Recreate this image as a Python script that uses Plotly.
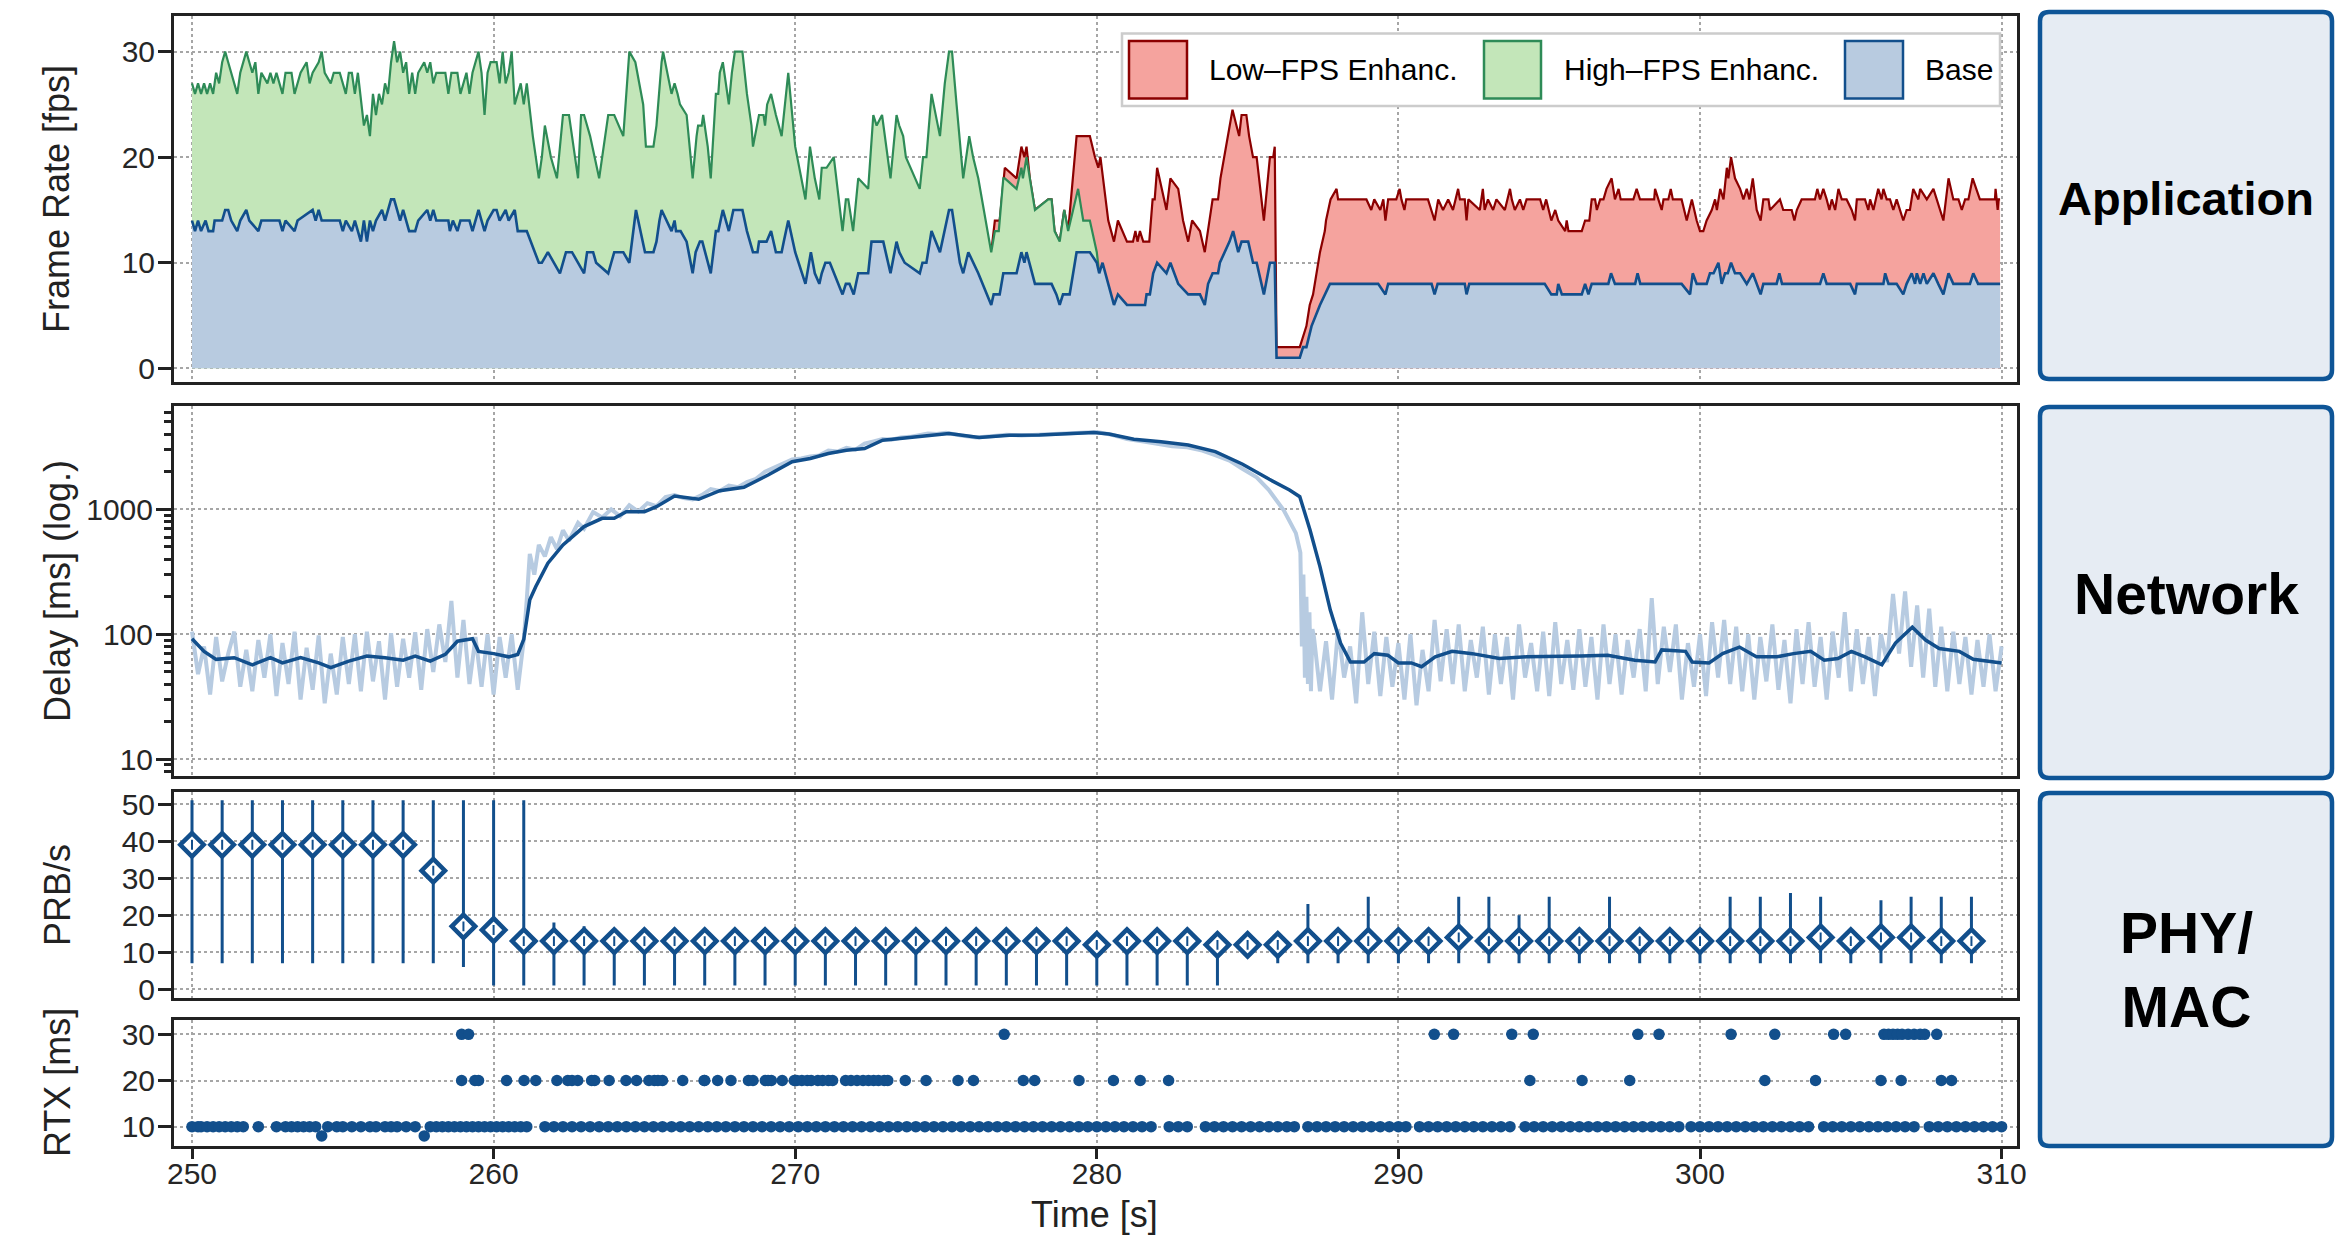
import numpy as np
import plotly.graph_objects as go

# ---------------- DATA ----------------
# Frame rate: (time [s], fps)
FPS_BASE = [(250.0,14),(250.1,13),(250.2,14),(250.3,13),(250.45,14),(250.55,13),(250.7,13),(250.75,14),(251.0,14),(251.1,15),(251.2,15),(251.3,14),(251.5,13),(251.6,14),(251.8,15),(251.9,14),(252.2,13),(252.3,14),(252.9,14),(253.0,13),(253.1,14),(253.4,13),(253.5,14),(254.0,15),(254.1,14),(254.2,15),(254.3,14),(254.9,14),(255.0,13),(255.1,14),(255.3,13),(255.4,14),(255.6,12),(255.7,14),(255.8,12),(255.9,14),(256.0,13),(256.1,14),(256.3,15),(256.4,14),(256.6,16),(256.7,16),(256.8,15),(256.9,14),(257.0,15),(257.1,14),(257.2,13),(257.4,13),(257.5,14),(257.8,15),(257.9,14),(258.0,15),(258.1,14),(258.5,14),(258.55,13),(258.65,14),(258.8,13),(258.9,14),(259.2,14),(259.3,13),(259.4,14),(259.5,15),(259.6,14),(259.7,13),(259.8,14),(260.0,15),(260.1,15),(260.2,14),(260.4,15),(260.5,14),(260.7,15),(260.8,13),(261.1,13),(261.5,10),(261.6,10),(261.8,11),(262.2,9),(262.4,11),(262.6,11),(262.8,10),(263.0,9),(263.1,11),(263.3,11),(263.4,10),(263.8,9),(263.9,10),(264.0,11),(264.3,11),(264.5,10),(264.72,15),(265.02,11),(265.3,11),(265.4,12),(265.5,14),(265.57,15),(265.9,13),(266.0,14),(266.05,13),(266.2,13),(266.4,12),(266.6,9),(266.7,11),(266.84,12),(266.92,12),(267.2,9),(267.37,13),(267.45,13),(267.6,15),(267.8,13),(267.95,15),(268.25,15),(268.4,13),(268.6,11),(268.75,11),(268.8,12),(269.05,12),(269.2,13),(269.36,11),(269.55,11),(269.62,12),(269.77,14),(270.0,11),(270.34,8),(270.52,11),(270.65,9),(270.8,8),(270.88,9),(271.0,10),(271.15,10),(271.57,7),(271.68,8),(271.8,8),(271.94,7),(272.09,9),(272.42,9),(272.53,12),(272.92,12),(273.16,9),(273.36,12),(273.45,11),(273.63,10),(274.13,9),(274.22,10),(274.35,10),(274.52,13),(274.8,11),(274.96,13),(275.1,15),(275.2,15),(275.46,10),(275.57,9),(275.74,11),(276.07,9),(276.5,6),(276.58,7),(276.78,7),(276.9,9),(277.34,9),(277.5,11),(277.6,10),(277.67,11),(277.95,8),(278.5,8),(278.66,7),(278.77,6),(278.88,7),(279.1,7),(279.22,9),(279.33,11),(279.77,11),(280.0,10),(280.08,9),(280.19,10),(280.38,8),(280.57,6),(280.7,7),(281.0,6),(281.6,6),(281.65,7),(281.76,7),(281.87,9),(282.0,10),(282.31,9),(282.44,10),(282.7,8),(283.03,7),(283.42,7),(283.58,6),(283.69,8),(283.84,9),(284.02,9),(284.08,10),(284.4,12),(284.52,13),(284.69,11),(284.8,12),(285.02,12),(285.18,10),(285.3,10),(285.54,7),(285.74,10),(285.9,10),(285.96,1),(286.73,1),(286.84,2),(286.95,2),(287.12,4),(287.4,6),(287.73,8),(289.33,8),(289.57,7),(289.66,8),(291.1,8),(291.2,7),(291.3,8),(292.2,8),(292.26,7),(292.35,8),(294.85,8),(295.07,7),(295.25,7),(295.3,8),(295.42,7),(296.08,7),(296.19,8),(296.3,7),(296.41,8),(296.96,8),(297.05,9),(297.18,8),(297.85,8),(297.93,9),(298.02,8),(299.39,8),(299.67,7),(299.76,9),(299.89,8),(300.22,8),(300.33,9),(300.45,9),(300.61,10),(300.72,8),(300.83,9),(300.92,9),(301.03,10),(301.16,9),(301.33,9),(301.55,8),(301.75,9),(302.01,7),(302.1,8),(302.54,8),(302.63,9),(302.72,8),(303.98,8),(304.09,9),(304.2,8),(304.98,8),(305.14,7),(305.2,8),(306.08,8),(306.14,9),(306.25,8),(306.52,8),(306.74,7),(306.85,8),(307.02,9),(307.13,8),(307.19,9),(307.3,8),(307.41,9),(307.52,8),(307.74,9),(307.9,8),(308.07,7),(308.24,9),(308.4,8),(308.95,8),(309.06,9),(309.22,8),(309.95,8)]

# Base + High-FPS enhancement (stacked top)
FPS_HIGH = [(250.0,27),(250.1,26),(250.2,27),(250.3,26),(250.4,27),(250.5,26),(250.6,27),(250.7,26),(250.8,28),(250.9,27),(251.0,29),(251.1,30),(251.2,29),(251.3,28),(251.5,26),(251.6,28),(251.8,30),(251.9,29),(252.0,28),(252.1,29),(252.2,26),(252.3,28),(252.5,27),(252.6,28),(252.7,27),(252.8,28),(253.0,26),(253.1,28),(253.3,28),(253.4,26),(253.6,28),(253.8,29),(253.9,27),(254.0,28),(254.2,29),(254.3,30),(254.4,28),(254.6,27),(254.7,28),(254.9,28),(255.1,26),(255.2,28),(255.3,28),(255.4,26),(255.5,28),(255.7,23),(255.8,24),(255.9,22),(256.0,26),(256.1,24),(256.2,26),(256.3,25),(256.4,27),(256.5,26),(256.6,29),(256.7,31),(256.8,29),(256.9,30),(257.0,28),(257.1,29),(257.2,26),(257.3,28),(257.4,26),(257.5,28),(257.7,29),(257.8,28),(257.9,29),(258.0,27),(258.1,28),(258.4,28),(258.5,26),(258.6,28),(258.8,28),(258.9,26),(259.0,27),(259.1,28),(259.2,26),(259.3,28),(259.5,30),(259.6,28),(259.7,24),(259.8,28),(259.9,29),(260.1,29),(260.2,27),(260.3,30),(260.4,27),(260.5,28),(260.6,30),(260.7,25),(260.8,26),(260.9,27),(261.0,25),(261.1,27),(261.3,22),(261.5,18),(261.6,20),(261.7,23),(261.9,20),(262.1,18),(262.3,24),(262.5,24),(262.6,22),(262.8,18),(262.9,24),(263.0,24),(263.2,22),(263.5,18),(263.6,20),(263.8,24),(264.0,24),(264.3,22),(264.5,30),(264.7,29),(264.96,25),(265.05,21),(265.3,21),(265.4,23),(265.57,29),(265.62,30),(265.9,26),(266.0,27),(266.1,26),(266.18,25),(266.4,24),(266.6,18),(266.73,22),(266.78,23),(266.9,23),(266.95,24),(267.1,21),(267.2,18),(267.37,26),(267.45,26),(267.5,28),(267.6,29),(267.8,25),(267.9,28),(268.0,30),(268.25,30),(268.4,26),(268.5,24),(268.55,23),(268.6,21),(268.8,24),(268.95,24),(269.0,23),(269.07,25),(269.2,26),(269.36,24),(269.55,22),(269.66,25),(269.77,28),(270.0,21),(270.34,16),(270.49,21),(270.65,18),(270.8,16),(270.88,19),(271.04,19),(271.28,20),(271.57,13),(271.68,16),(271.76,16),(271.92,13),(272.09,18),(272.42,17),(272.59,24),(272.7,23),(272.88,24),(273.16,18),(273.36,24),(273.45,23),(273.58,22),(273.67,20),(274.13,17),(274.24,20),(274.35,20),(274.52,26),(274.8,22),(274.96,27),(275.1,30),(275.2,30),(275.35,25),(275.57,18),(275.77,22),(275.9,20),(276.07,18),(276.5,11),(276.62,13),(276.75,13),(276.9,18),(276.95,18),(277.34,17),(277.5,19),(277.55,18),(277.67,20),(277.78,18),(277.95,15),(278.39,16),(278.5,16),(278.6,13),(278.77,12),(278.92,15),(279.05,13),(279.38,17),(279.55,14),(279.77,14),(280.0,11),(280.08,9)]

# Base + High + Low-FPS enhancement (stacked top)
FPS_LOW = [(276.5,11),(276.62,14),(276.78,14),(276.95,19),(277.34,18),(277.5,21),(277.6,20),(277.67,21),(277.78,18),(277.95,15),(278.39,16),(278.5,16),(278.6,13),(278.77,12),(278.92,15),(279.05,13),(279.33,22),(279.77,22),(279.94,20),(280.05,19),(280.12,20),(280.2,18),(280.38,14),(280.57,12),(280.7,14),(281.0,12),(281.2,12),(281.28,13),(281.35,12),(281.43,13),(281.54,12),(281.74,12),(281.85,16),(281.92,16),(282.0,19),(282.31,15),(282.44,18),(282.7,17),(282.86,14),(283.03,12),(283.16,14),(283.42,13),(283.58,11),(283.84,16),(284.02,16),(284.1,18),(284.36,22),(284.5,24.5),(284.63,23),(284.72,22),(284.8,24),(284.96,24),(285.05,22),(285.18,20),(285.3,20),(285.54,14),(285.74,20),(285.85,20),(285.9,21),(285.96,2),(286.73,2),(286.84,3),(286.95,4),(287.06,6),(287.17,7),(287.4,11),(287.56,13),(287.6,14),(287.75,16),(287.95,17),(288.0,16),(288.94,16),(289.1,15),(289.2,16),(289.4,15),(289.5,16),(289.57,14),(289.66,16),(289.93,16),(290.04,17),(290.1,16),(290.2,15),(290.26,16),(290.98,16),(291.2,14),(291.32,16),(291.48,15),(291.65,16),(291.81,15),(291.98,17),(292.04,16),(292.2,16),(292.26,14),(292.32,16),(292.7,15),(292.8,17),(292.86,15),(292.97,16),(293.14,15),(293.25,16),(293.53,15),(293.7,17),(293.76,16),(293.86,15),(294.03,16),(294.14,15),(294.25,16),(294.7,16),(294.8,15),(294.9,16),(295.07,14),(295.2,15),(295.3,14),(295.53,13),(295.58,14),(295.64,13),(296.08,13),(296.19,14),(296.33,14),(296.41,16),(296.52,16),(296.58,15),(296.69,16),(296.8,16),(296.9,17),(297.07,18),(297.18,16),(297.3,17),(297.37,16),(297.79,16),(297.9,17),(298.01,16),(298.48,16),(298.51,17),(298.62,16),(298.73,15),(298.79,16),(298.95,16),(299.03,17),(299.1,16),(299.39,16),(299.56,14),(299.73,16),(299.89,14),(300.0,13),(300.11,13),(300.22,14),(300.39,15),(300.5,16),(300.56,15),(300.67,17),(300.78,16),(300.89,19),(300.94,18),(301.03,20),(301.1,19),(301.16,18),(301.33,17),(301.44,16),(301.55,17),(301.64,16),(301.75,18),(301.88,15),(302.01,14),(302.1,16),(302.27,16),(302.32,15),(302.65,16),(302.76,15),(303.04,15),(303.13,14),(303.21,15),(303.37,16),(303.81,16),(303.89,17),(303.98,16),(304.09,17),(304.2,16),(304.29,15),(304.37,16),(304.48,15),(304.59,17),(304.7,16),(304.86,16),(305.03,15),(305.14,14),(305.2,16),(305.47,16),(305.58,15),(305.64,16),(305.75,15),(305.91,17),(306.02,16),(306.08,17),(306.19,16),(306.3,16),(306.41,15),(306.52,16),(306.63,15),(306.74,14),(306.85,15),(306.96,15),(307.07,17),(307.24,16),(307.3,17),(307.52,16),(307.74,17),(307.85,16),(308.07,14),(308.24,18),(308.4,16),(308.57,16),(308.68,15),(308.79,16),(308.9,16),(309.04,18),(309.17,17),(309.28,16),(309.78,16),(309.8,17),(309.87,15),(309.9,16),(309.95,16)]

# Delay [ms]: raw samples (light) in three pieces, and smoothed (dark)
DELAY_RAW_A_START, DELAY_RAW_STEP = 250.0, 0.2
DELAY_RAW_A = [105,48,80,33,95,42,70,105,38,75,35,90,45,100,32,85,40,105,30,78,36,98,28,70,33,95,40,100,35,105,42,88,30,102,38,92,45,104,36,110,50,120,60,185,45,130,40,95,38,100,33,95,45,100,36,90]
DELAY_RAW_B = [(261.1,190),(261.2,440),(261.35,300),(261.5,520),(261.7,420),(261.9,600),(262.1,480),(262.3,680),(262.5,560),(262.8,780),(263.0,700),(263.3,950),(263.6,860),(263.9,1000),(264.2,880),(264.5,1080),(264.8,960),(265.1,1120),(265.4,1060),(265.7,1250),(266.0,1300),(266.3,1230),(266.6,1200),(266.9,1300),(267.2,1450),(267.5,1400),(267.8,1550),(268.1,1500),(268.4,1650),(268.7,1750),(269.0,2000),(269.3,2150),(269.6,2300),(269.9,2500),(270.2,2550),(270.5,2650),(270.8,2700),(271.1,2950),(271.4,2900),(271.7,3100),(272.0,3000),(272.3,3350),(272.6,3500),(272.9,3650),(273.2,3600),(273.5,3750),(273.8,3800),(274.1,3900),(274.4,4050),(274.7,4000),(275.0,4100),(275.5,3900),(276.0,3750),(276.5,3850),(277.0,3950),(277.5,3900),(278.0,3950),(278.5,4000),(279.0,4050),(279.5,4150),(280.0,4150),(280.5,3950),(281.0,3650),(281.5,3500),(282.0,3350),(282.5,3200),(283.0,3130),(283.5,2950),(283.9,2720),(284.4,2450),(284.8,2130),(285.3,1800),(285.7,1430),(286.2,980),(286.6,645),(286.7,520),(286.75,450),(286.8,80),(286.85,300),(286.9,45),(286.95,200),(287.0,40),(287.05,150),(287.1,35),(287.15,110)]
DELAY_RAW_C_START = 287.2
DELAY_RAW_C = [95,35,88,30,110,45,80,28,150,40,105,32,95,38,85,30,100,27,75,35,130,42,110,40,120,35,90,45,115,33,100,40,95,30,120,45,85,35,105,32,125,40,90,36,110,38,95,30,120,40,100,33,90,45,110,35,195,40,115,50,120,30,85,38,100,32,125,45,130,40,115,35,100,30,95,42,120,36,90,28,110,40,125,38,95,30,105,45,150,35,110,40,95,32,100,60,210,70,220,55,170,45,160,38,115,35,105,40,95,33,90,38,100,35,80]
DELAY_SMOOTH = [(250.0,92),(250.4,73),(250.8,63),(251.4,65),(252.0,57),(252.6,65),(253.0,59),(253.6,65),(254.2,59),(254.6,54),(255.2,61),(255.8,67),(256.4,65),(257.0,62),(257.4,67),(257.9,61),(258.4,69),(258.8,88),(259.3,92),(259.5,73),(260.0,70),(260.5,66),(260.8,69),(261.0,91),(261.2,189),(261.4,241),(261.8,371),(262.3,519),(263.0,727),(263.6,847),(264.0,847),(264.4,958),(265.0,958),(265.4,1050),(266.0,1277),(266.4,1246),(266.8,1202),(267.5,1409),(268.3,1499),(269.1,1880),(269.9,2400),(270.5,2550),(271.1,2797),(271.7,2973),(272.3,3067),(272.9,3573),(273.5,3683),(274.3,3846),(275.1,4038),(276.1,3751),(277.1,3915),(278.1,3933),(279.1,4050),(279.9,4120),(280.4,4000),(281.23,3631),(282.13,3476),(283.03,3270),(283.93,2892),(284.82,2305),(285.72,1738),(286.39,1429),(286.73,1262),(287.07,684),(287.4,348),(287.74,157),(288.08,85),(288.41,60),(288.86,60),(289.2,70),(289.65,68),(290.0,59),(290.43,59),(290.77,55),(291.22,66),(291.78,73),(292.45,70),(293.35,64),(294.25,66),(295.14,66),(296.04,67),(296.94,68),(297.84,62),(298.51,60),(298.73,75),(299.52,73),(299.74,60),(300.3,59),(300.75,70),(301.31,79),(301.87,66),(302.55,66),(303.1,70),(303.67,73),(304.12,62),(304.57,64),(305.02,73),(305.47,66),(306.03,57),(306.48,85),(307.04,114),(307.48,90),(307.93,77),(308.6,73),(309.06,63),(310.0,59)]

# PRB/s per second: median, min, max
PRB_T = [250 + i for i in range(60)]
PRB_MED = [39]*8 + [32, 17, 16] + [13]*19 + [12, 13, 13, 13, 12, 12, 12] + [13,13,13,13,13,14,13,13,13,13,13,13,13,13,13,13,13,14,13,14,14,13,13]
PRB_MIN = [7]*9 + [6] + [1]*25 + [11, 7] + [7]*23
PRB_MAX = [51]*12 + [18, 17, 16] + [15]*20 + [13, 14] + [23,14,25,14,14,25,25,20,25,14,25,14,14,14,25,25,26,25,14,24,25,25,25]

# RTX events: times at which a retransmission delay of 10 / 20 / 30 ms occurred
RTX_AT_10 = [250.0,250.2,250.3,250.5,250.7,250.9,251.1,251.3,251.5,251.7,252.2,252.8,253.1,253.3,253.5,253.7,253.9,254.1,254.5,254.8,255.0,255.3,255.6,255.9,256.1,256.4,256.6,256.8,257.1,257.4,257.9,258.1,258.3,258.5,258.7,258.9,259.1,259.3,259.5,259.7,259.9,260.1,260.3,260.5,260.7,260.9,261.1,261.7,262.0,262.3,262.6,262.9,263.2,263.5,263.8,264.1,264.4,264.7,265.0,265.3,265.6,265.9,266.2,266.5,266.8,267.1,267.4,267.7,268.0,268.3,268.6,268.9,269.2,269.5,269.8,270.1,270.4,270.7,271.0,271.3,271.6,271.9,272.2,272.5,272.8,273.1,273.4,273.7,274.0,274.3,274.6,274.9,275.2,275.5,275.8,276.1,276.4,276.7,277.0,277.3,277.6,277.9,278.2,278.5,278.8,279.1,279.4,279.7,280.0,280.3,280.6,280.9,281.2,281.5,281.8,282.4,282.7,283.0,283.6,283.9,284.2,284.5,284.8,285.1,285.4,285.7,286.0,286.3,286.55,287.0,287.3,287.6,287.9,288.2,288.5,288.8,289.1,289.4,289.7,290.0,290.25,290.7,291.0,291.3,291.6,291.9,292.2,292.5,292.8,293.1,293.4,293.7,294.2,294.5,294.8,295.1,295.4,295.7,296.0,296.3,296.6,296.9,297.2,297.5,297.8,298.1,298.4,298.7,299.0,299.3,299.7,300.0,300.3,300.6,300.9,301.2,301.5,301.8,302.1,302.4,302.7,303.0,303.3,303.6,304.1,304.4,304.7,305.0,305.3,305.6,305.9,306.2,306.5,306.8,307.1,307.6,307.9,308.2,308.5,308.8,309.1,309.4,309.7,310.0]
RTX_AT_20 = [258.94,259.38,259.5,260.43,261.01,261.4,262.1,262.46,262.6,262.79,263.25,263.35,263.83,264.39,264.74,265.15,265.33,265.45,265.6,266.27,266.98,267.0,267.43,267.87,268.45,268.6,269.01,269.1,269.21,269.57,269.97,270.05,270.22,270.4,270.53,270.75,270.91,271.1,271.24,271.67,271.85,272.05,272.25,272.43,272.6,272.76,272.95,273.07,273.65,274.34,275.4,275.91,277.56,277.94,279.41,280.55,281.44,282.38,294.36,296.09,297.67,302.15,303.83,306.0,306.67,308.0,308.34]
RTX_AT_30 = [258.94,259.17,276.93,291.19,291.83,293.76,294.47,297.94,298.64,301.03,302.48,304.43,304.83,306.1,306.25,306.4,306.55,306.7,306.9,307.1,307.3,307.45,307.85]
RTX_OTHER = [(254.3,8),(257.7,8)]

LEGEND_LABELS = ["Low\u2013FPS Enhanc.", "High\u2013FPS Enhanc.", "Base"]
LAYER_LABELS = ["Application", "Network", "PHY/<br>MAC"]

# ---------------- STYLE ----------------
BLUE = "#124f8c"
BLUE_FILL = "#b8cbe0"
GREEN = "#2e8b57"
GREEN_FILL = "#c3e6b9"
RED = "#8b0000"
RED_FILL = "#f5a39e"
LIGHT_BLUE = "#b7cbe1"
FRAME = "#222222"
GRID = "#a6a6a6"
FONT = "Liberation Sans, Arial, Helvetica, sans-serif"

W, H = 2342, 1237
ML, MR, MT, MB = 174, W - 2017, 16, H - 1146
PW, PH = W - ML - MR, H - MT - MB


def px(x):
    return (x - ML) / PW


def py(y):
    return (H - MB - y) / PH


def unzip(pairs):
    return [p[0] for p in pairs], [p[1] for p in pairs]


fig = go.Figure()

# ---- Frame rate (stacked areas) ----
for pts, fc, lc, lw in [(FPS_LOW, RED_FILL, RED, 2.2), (FPS_HIGH, GREEN_FILL, GREEN, 2.2), (FPS_BASE, BLUE_FILL, BLUE, 2.6)]:
    t, v = unzip(pts)
    fig.add_trace(go.Scatter(x=t, y=v, mode="lines", fill="tozeroy", fillcolor=fc,
                             line=dict(color=lc, width=lw), xaxis="x", yaxis="y",
                             showlegend=False, hoverinfo="skip"))

# ---- Delay ----
ta = [round(DELAY_RAW_A_START + DELAY_RAW_STEP * i, 2) for i in range(len(DELAY_RAW_A))]
tb, vb = unzip(DELAY_RAW_B)
tc = [round(DELAY_RAW_C_START + DELAY_RAW_STEP * i, 2) for i in range(len(DELAY_RAW_C))]
fig.add_trace(go.Scatter(x=ta + tb + tc, y=DELAY_RAW_A + vb + DELAY_RAW_C, mode="lines",
                         line=dict(color=LIGHT_BLUE, width=4), xaxis="x2", yaxis="y2",
                         showlegend=False, hoverinfo="skip"))
ts, vs = unzip(DELAY_SMOOTH)
fig.add_trace(go.Scatter(x=ts, y=vs, mode="lines", line=dict(color=BLUE, width=3.5),
                         xaxis="x2", yaxis="y2", showlegend=False, hoverinfo="skip"))

# ---- PRB/s ----
vx, vy = [], []
for t, lo, hi in zip(PRB_T, PRB_MIN, PRB_MAX):
    vx += [t, t, None]
    vy += [lo, hi, None]
fig.add_trace(go.Scatter(x=vx, y=vy, mode="lines", line=dict(color=BLUE, width=3),
                         xaxis="x3", yaxis="y3", showlegend=False, hoverinfo="skip"))
fig.add_trace(go.Scatter(x=PRB_T, y=PRB_MED, mode="markers",
                         marker=dict(symbol="diamond", size=18, color="white",
                                     line=dict(color=BLUE, width=4.5)),
                         xaxis="x3", yaxis="y3", showlegend=False, hoverinfo="skip"))
fig.add_trace(go.Scatter(x=PRB_T, y=PRB_MED, mode="markers",
                         marker=dict(symbol="line-ns", size=7, color=BLUE,
                                     line=dict(color=BLUE, width=2)),
                         xaxis="x3", yaxis="y3", showlegend=False, hoverinfo="skip"))

# ---- RTX ----
ro_t, ro_v = unzip(RTX_OTHER)
rx = RTX_AT_10 + RTX_AT_20 + RTX_AT_30 + ro_t
ry = [10] * len(RTX_AT_10) + [20] * len(RTX_AT_20) + [30] * len(RTX_AT_30) + ro_v
fig.add_trace(go.Scatter(x=rx, y=ry, mode="markers", marker=dict(size=11.5, color=BLUE),
                         xaxis="x4", yaxis="y4", showlegend=False, hoverinfo="skip"))

# ---------------- AXES ----------------
XR = [250 - (192 - ML) / 30.16, 250 + (2017 - 192) / 30.16]
tickfont = dict(family=FONT, size=30, color="#262626")

common_x = dict(range=XR, showline=True, mirror=True, linecolor=FRAME, linewidth=3,
                showgrid=True, gridcolor=GRID, griddash="dot", gridwidth=1.6,
                dtick=10, tick0=250, zeroline=False, tickfont=tickfont)
common_y = dict(showline=True, mirror=True, linecolor=FRAME, linewidth=3,
                showgrid=True, gridcolor=GRID, griddash="dot", gridwidth=1.6,
                zeroline=False, ticks="outside", ticklen=13, tickwidth=3, tickcolor=FRAME,
                tickfont=tickfont, ticklabelstandoff=-3)

D_FPS = [py(382), 1.0]
D_NET = [py(776), py(405.7)]
D_PRB = [py(998.3), py(792.3)]
D_RTX = [0.0, py(1020)]

fig.update_layout(
    width=W, height=H,
    margin=dict(l=ML, r=MR, t=MT, b=MB),
    paper_bgcolor="white", plot_bgcolor="white",
    font=dict(family=FONT, color="#222"),
    showlegend=False,
    xaxis=dict(common_x, anchor="y", showticklabels=False, ticks=""),
    yaxis=dict(common_y, anchor="x", domain=D_FPS, range=[-1.30, 33.38], tickvals=[0, 10, 20, 30]),
    xaxis2=dict(common_x, anchor="y2", showticklabels=False, ticks=""),
    yaxis2=dict(common_y, anchor="x2", domain=D_NET, type="log", range=[0.866, 3.829],
                tickvals=[10, 100, 1000], ticktext=["10", "100", "1000"], ticklen=15,
                minor=dict(ticks="outside", ticklen=7, tickwidth=3, tickcolor=FRAME, showgrid=False,
                           tickvals=[7, 8, 9] + [k * 10 for k in range(2, 10)] + [k * 100 for k in range(2, 10)] + [k * 1000 for k in range(2, 7)])),
    xaxis3=dict(common_x, anchor="y3", showticklabels=False, ticks=""),
    yaxis3=dict(common_y, anchor="x3", domain=D_PRB, range=[-2.43, 53.16], tickvals=[0, 10, 20, 30, 40, 50]),
    xaxis4=dict(common_x, anchor="y4", ticks="outside", ticklen=10, tickwidth=3, tickcolor=FRAME,
                ticklabelstandoff=-11, tickvals=[250, 260, 270, 280, 290, 300, 310]),
    yaxis4=dict(common_y, anchor="x4", domain=D_RTX, range=[5.82, 33.1], tickvals=[10, 20, 30]),
)

ann = []
# y-axis titles
for txt, yc in [("Frame Rate [fps]", 199), ("Delay [ms] (log.)", 591), ("PRB/s", 895), ("RTX [ms]", 1083)]:
    ann.append(dict(text=txt, x=px(57), y=py(yc), xref="paper", yref="paper", textangle=-90,
                    showarrow=False, xanchor="center", yanchor="middle",
                    font=dict(family=FONT, size=36, color="#222")))
# x-axis title
ann.append(dict(text="Time [s]", x=px(1094), y=py(1214), xref="paper", yref="paper", showarrow=False,
                xanchor="center", yanchor="middle", font=dict(family=FONT, size=36, color="#222")))

shapes = []
# manual legend
shapes.append(dict(type="rect", xref="paper", yref="paper", x0=px(1122), x1=px(2000), y0=py(106), y1=py(33.5),
                   fillcolor="white", line=dict(color="#cccccc", width=2.5), layer="above"))
legend_items = [(1129, 1187, 1207, RED_FILL, RED), (1484, 1541, 1562, GREEN_FILL, GREEN), (1845, 1903, 1923, BLUE_FILL, BLUE)]
for (s0, s1, tx, fc, lc), lab in zip(legend_items, LEGEND_LABELS):
    shapes.append(dict(type="rect", xref="paper", yref="paper", x0=px(s0), x1=px(s1), y0=py(98.5), y1=py(41),
                       fillcolor=fc, line=dict(color=lc, width=2.5), layer="above"))
    ann.append(dict(text=lab, x=px(tx), y=py(70), xref="paper", yref="paper", showarrow=False,
                    xanchor="left", yanchor="middle", font=dict(family=FONT, size=30, color="black")))

# right-hand layer boxes
def rounded_box(x0p, x1p, y0p, y1p, r=9):
    x0, x1 = px(x0p), px(x1p)
    y0, y1 = py(y1p), py(y0p)
    rx, ry = r / PW, r / PH
    return (f"M {x0+rx},{y0} L {x1-rx},{y0} Q {x1},{y0} {x1},{y0+ry} L {x1},{y1-ry} "
            f"Q {x1},{y1} {x1-rx},{y1} L {x0+rx},{y1} Q {x0},{y1} {x0},{y1-ry} "
            f"L {x0},{y0+ry} Q {x0},{y0} {x0+rx},{y0} Z")

boxes = [(12, 379, 199, 47), (407, 778, 594, 57), (793, 1146, 970, 57)]
for (b0, b1, tc_, fs), lab in zip(boxes, LAYER_LABELS):
    shapes.append(dict(type="path", xref="paper", yref="paper", path=rounded_box(2040, 2332, b0, b1),
                       fillcolor="#e6ecf3", line=dict(color="#0e5597", width=4.5)))
    ann.append(dict(text=f"<b>{lab}</b>", x=px(2186), y=py(tc_), xref="paper", yref="paper",
                    showarrow=False, xanchor="center", yanchor="middle",
                    font=dict(family=FONT, size=fs, color="black")))

fig.update_layout(annotations=ann, shapes=shapes)

fig.write_html("out.html", config={"displayModeBar": False},
               post_script="document.body.style.margin='0';document.body.style.overflow='hidden';")
